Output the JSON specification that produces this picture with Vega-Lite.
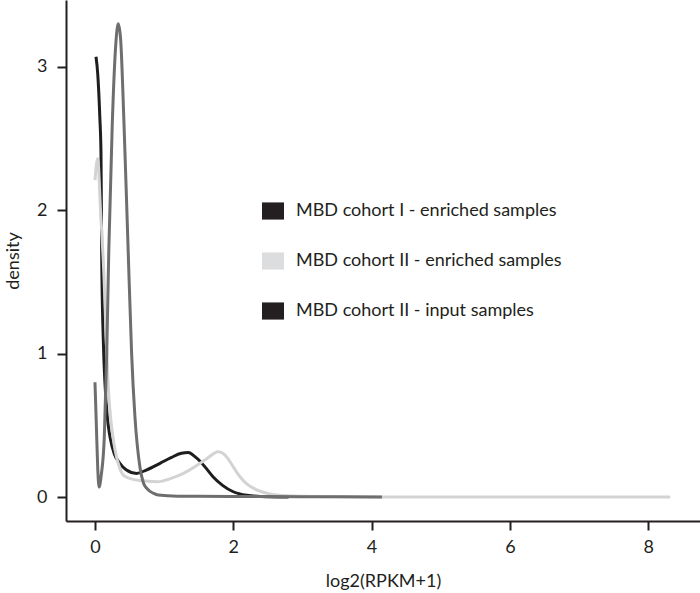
{
  "$schema": "https://vega.github.io/schema/vega-lite/v6.json",
  "width": 634,
  "height": 521,
  "autosize": {"type": "none"},
  "padding": {"left": 66, "top": 0, "right": 0, "bottom": 72},
  "background": "white",
  "config": {
    "view": {"stroke": null},
    "font": "Lato",
    "axis": {
      "domainColor": "#231f20",
      "domainWidth": 2,
      "tickColor": "#231f20",
      "tickWidth": 2,
      "tickSize": 9,
      "grid": false,
      "labelFont": "Lato",
      "labelFontSize": 18,
      "labelColor": "#231f20",
      "titleFont": "Lato",
      "titleFontSize": 18,
      "titleFontWeight": "normal",
      "titleColor": "#231f20"
    }
  },
  "data": {
    "values": [
      {"s": "MBD cohort I - enriched samples", "x": 0.015, "y": 3.07},
      {"s": "MBD cohort I - enriched samples", "x": 0.04, "y": 2.95},
      {"s": "MBD cohort I - enriched samples", "x": 0.07, "y": 2.65},
      {"s": "MBD cohort I - enriched samples", "x": 0.087, "y": 2.4},
      {"s": "MBD cohort I - enriched samples", "x": 0.097, "y": 1.7},
      {"s": "MBD cohort I - enriched samples", "x": 0.12, "y": 1.1},
      {"s": "MBD cohort I - enriched samples", "x": 0.145, "y": 0.79},
      {"s": "MBD cohort I - enriched samples", "x": 0.18, "y": 0.55},
      {"s": "MBD cohort I - enriched samples", "x": 0.217, "y": 0.42},
      {"s": "MBD cohort I - enriched samples", "x": 0.28, "y": 0.3},
      {"s": "MBD cohort I - enriched samples", "x": 0.36, "y": 0.235},
      {"s": "MBD cohort I - enriched samples", "x": 0.45, "y": 0.19},
      {"s": "MBD cohort I - enriched samples", "x": 0.6, "y": 0.165},
      {"s": "MBD cohort I - enriched samples", "x": 0.75, "y": 0.19},
      {"s": "MBD cohort I - enriched samples", "x": 0.94, "y": 0.235},
      {"s": "MBD cohort I - enriched samples", "x": 1.1, "y": 0.275},
      {"s": "MBD cohort I - enriched samples", "x": 1.25, "y": 0.305},
      {"s": "MBD cohort I - enriched samples", "x": 1.35, "y": 0.31},
      {"s": "MBD cohort I - enriched samples", "x": 1.45, "y": 0.28},
      {"s": "MBD cohort I - enriched samples", "x": 1.52, "y": 0.25},
      {"s": "MBD cohort I - enriched samples", "x": 1.6, "y": 0.205},
      {"s": "MBD cohort I - enriched samples", "x": 1.71, "y": 0.14},
      {"s": "MBD cohort I - enriched samples", "x": 1.85, "y": 0.08},
      {"s": "MBD cohort I - enriched samples", "x": 2.0, "y": 0.037},
      {"s": "MBD cohort I - enriched samples", "x": 2.2, "y": 0.012},
      {"s": "MBD cohort I - enriched samples", "x": 2.4, "y": 0.004},
      {"s": "MBD cohort I - enriched samples", "x": 2.8, "y": 0.0},
      {"s": "MBD cohort II - enriched samples", "x": 0.0, "y": 2.21},
      {"s": "MBD cohort II - enriched samples", "x": 0.04, "y": 2.36},
      {"s": "MBD cohort II - enriched samples", "x": 0.08, "y": 2.0},
      {"s": "MBD cohort II - enriched samples", "x": 0.12, "y": 1.65},
      {"s": "MBD cohort II - enriched samples", "x": 0.19, "y": 0.79},
      {"s": "MBD cohort II - enriched samples", "x": 0.29, "y": 0.33},
      {"s": "MBD cohort II - enriched samples", "x": 0.36, "y": 0.2},
      {"s": "MBD cohort II - enriched samples", "x": 0.43, "y": 0.145},
      {"s": "MBD cohort II - enriched samples", "x": 0.65, "y": 0.115},
      {"s": "MBD cohort II - enriched samples", "x": 0.9, "y": 0.107},
      {"s": "MBD cohort II - enriched samples", "x": 1.1, "y": 0.13},
      {"s": "MBD cohort II - enriched samples", "x": 1.28, "y": 0.165},
      {"s": "MBD cohort II - enriched samples", "x": 1.52, "y": 0.235},
      {"s": "MBD cohort II - enriched samples", "x": 1.65, "y": 0.28},
      {"s": "MBD cohort II - enriched samples", "x": 1.78, "y": 0.316},
      {"s": "MBD cohort II - enriched samples", "x": 1.85, "y": 0.305},
      {"s": "MBD cohort II - enriched samples", "x": 1.92, "y": 0.27},
      {"s": "MBD cohort II - enriched samples", "x": 2.0, "y": 0.21},
      {"s": "MBD cohort II - enriched samples", "x": 2.1, "y": 0.14},
      {"s": "MBD cohort II - enriched samples", "x": 2.2, "y": 0.09},
      {"s": "MBD cohort II - enriched samples", "x": 2.34, "y": 0.05},
      {"s": "MBD cohort II - enriched samples", "x": 2.5, "y": 0.025},
      {"s": "MBD cohort II - enriched samples", "x": 2.63, "y": 0.014},
      {"s": "MBD cohort II - enriched samples", "x": 3.0, "y": 0.005},
      {"s": "MBD cohort II - enriched samples", "x": 3.5, "y": 0.002},
      {"s": "MBD cohort II - enriched samples", "x": 4.0, "y": 0.001},
      {"s": "MBD cohort II - enriched samples", "x": 5.0, "y": 0.0},
      {"s": "MBD cohort II - enriched samples", "x": 6.0, "y": 0.0},
      {"s": "MBD cohort II - enriched samples", "x": 7.0, "y": 0.0},
      {"s": "MBD cohort II - enriched samples", "x": 8.0, "y": 0.0},
      {"s": "MBD cohort II - enriched samples", "x": 8.32, "y": 0.0},
      {"s": "MBD cohort II - input samples", "x": 0.0, "y": 0.8},
      {"s": "MBD cohort II - input samples", "x": 0.02, "y": 0.5},
      {"s": "MBD cohort II - input samples", "x": 0.04, "y": 0.2},
      {"s": "MBD cohort II - input samples", "x": 0.06, "y": 0.07},
      {"s": "MBD cohort II - input samples", "x": 0.09, "y": 0.15},
      {"s": "MBD cohort II - input samples", "x": 0.135, "y": 0.42},
      {"s": "MBD cohort II - input samples", "x": 0.17, "y": 1.0},
      {"s": "MBD cohort II - input samples", "x": 0.2, "y": 1.72},
      {"s": "MBD cohort II - input samples", "x": 0.25, "y": 2.6},
      {"s": "MBD cohort II - input samples", "x": 0.3, "y": 3.15},
      {"s": "MBD cohort II - input samples", "x": 0.337, "y": 3.3},
      {"s": "MBD cohort II - input samples", "x": 0.37, "y": 3.2},
      {"s": "MBD cohort II - input samples", "x": 0.42, "y": 2.6},
      {"s": "MBD cohort II - input samples", "x": 0.48, "y": 1.72},
      {"s": "MBD cohort II - input samples", "x": 0.53, "y": 1.0},
      {"s": "MBD cohort II - input samples", "x": 0.578, "y": 0.56},
      {"s": "MBD cohort II - input samples", "x": 0.65, "y": 0.21},
      {"s": "MBD cohort II - input samples", "x": 0.7, "y": 0.1},
      {"s": "MBD cohort II - input samples", "x": 0.75, "y": 0.06},
      {"s": "MBD cohort II - input samples", "x": 0.85, "y": 0.025},
      {"s": "MBD cohort II - input samples", "x": 0.915, "y": 0.014},
      {"s": "MBD cohort II - input samples", "x": 1.2, "y": 0.006},
      {"s": "MBD cohort II - input samples", "x": 1.5, "y": 0.005},
      {"s": "MBD cohort II - input samples", "x": 2.0, "y": 0.004},
      {"s": "MBD cohort II - input samples", "x": 2.5, "y": 0.003},
      {"s": "MBD cohort II - input samples", "x": 3.0, "y": 0.002},
      {"s": "MBD cohort II - input samples", "x": 3.5, "y": 0.002},
      {"s": "MBD cohort II - input samples", "x": 4.15, "y": 0.001}
    ]
  },
  "mark": {"type": "line", "interpolate": "monotone", "strokeWidth": 3, "clip": true},
  "encoding": {
    "x": {
      "field": "x",
      "type": "quantitative",
      "scale": {"domain": [-0.419, 8.75], "nice": false, "zero": false},
      "axis": {"values": [0, 2, 4, 6, 8], "title": "log2(RPKM+1)", "labelPadding": 8, "titlePadding": 16}
    },
    "y": {
      "field": "y",
      "type": "quantitative",
      "scale": {"domain": [-0.167, 3.466], "nice": false, "zero": false},
      "axis": {"values": [0, 1, 2, 3], "title": "density", "labelPadding": 10, "titlePadding": 14}
    },
    "color": {
      "field": "s",
      "type": "nominal",
      "scale": {
        "domain": ["MBD cohort I - enriched samples", "MBD cohort II - enriched samples", "MBD cohort II - input samples"],
        "range": ["#1e1e1e", "#d3d3d3", "#6e6e6e"]
      },
      "legend": {
        "title": null,
        "orient": "none",
        "legendX": 196,
        "legendY": 200,
        "padding": 0,
        "symbolType": "M-1,-0.78H1V0.78H-1Z",
        "symbolSize": 484,
        "symbolStrokeWidth": 0,
        "labelFont": "Lato",
        "labelFontSize": 18,
        "labelLimit": 500,
        "labelColor": "#231f20",
        "labelOffset": 12,
        "rowPadding": 30,
        "encode": {
          "symbols": {
            "update": {
              "fill": {"signal": "datum.value === 'MBD cohort II - enriched samples' ? '#dcdddf' : '#231f20'"},
              "stroke": {"value": "transparent"},
              "strokeWidth": {"value": 0},
              "opacity": {"value": 1}
            }
          }
        }
      }
    }
  }
}
